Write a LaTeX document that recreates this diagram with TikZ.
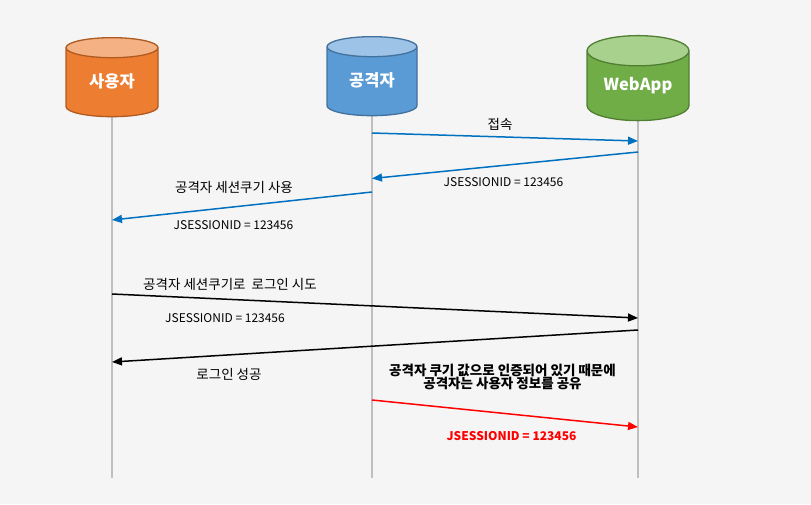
\documentclass[tikz,border=0pt]{standalone}
\usepackage{fontspec}
\setmainfont{Noto Sans CJK KR}
\usepackage{tikz}
\usetikzlibrary{shapes.geometric}
\usetikzlibrary{arrows.meta}
\definecolor{bgcol}{HTML}{F5F5F5}
\definecolor{lifegray}{HTML}{BFBFBF}
\definecolor{msgblue}{HTML}{0070C0}
\definecolor{usrbody}{HTML}{ED7D31}
\definecolor{usrtop}{HTML}{F4B183}
\definecolor{usredge}{HTML}{AE5A21}
\definecolor{atkbody}{HTML}{5B9BD5}
\definecolor{atktop}{HTML}{9DC3E6}
\definecolor{atkedge}{HTML}{41719C}
\definecolor{appbody}{HTML}{70AD47}
\definecolor{apptop}{HTML}{A9D18E}
\definecolor{appedge}{HTML}{507E32}
\newcommand{\actorname}[1]{\raisebox{3.5pt}{#1}}
\tikzset{
  actor/.style={cylinder, shape border rotate=90, aspect=0.44,
    cylinder uses custom fill, line width=1.3pt, inner sep=0pt,
    text=white, font=\bfseries\fontsize{16.5}{16.5}\selectfont},
  lifeline/.style={line width=2pt, lifegray},
  msg/.style={line width=1.5pt, -{Triangle[length=10pt,width=8pt]}},
  txt/.style={inner sep=0pt, font=\fontsize{13.5}{15}\selectfont},
  idtxt/.style={inner sep=0pt, font=\fontsize{12}{14}\selectfont},
}
\begin{document}
\begin{tikzpicture}[x=1pt,y=-1pt]
    \fill[bgcol] (0,0) rectangle (811,504);
    \useasboundingbox (0,0) rectangle (811,504);
    \coordinate (usrend) at (112,478);
    \coordinate (atkend) at (372,478);
    \coordinate (append) at (638,478);
    \draw[lifeline] (112,100) -- (usrend);
    \draw[lifeline] (372,100) -- (atkend);
    \draw[lifeline] (638,100) -- (append);
    \node[actor, draw=usredge, cylinder body fill=usrbody, cylinder end fill=usrtop,
      minimum width=92pt, minimum height=79pt] (usr) at (112,82.5) {\actorname{사용자}};
    \node[actor, draw=atkedge, cylinder body fill=atkbody, cylinder end fill=atktop,
      minimum width=90pt, minimum height=79pt] (atk) at (372,81.5) {\actorname{공격자}};
    \node[actor, draw=appedge, cylinder body fill=appbody, cylinder end fill=apptop,
      minimum width=102pt, minimum height=85pt] (app) at (638,86) {\actorname{WebApp}};
    \draw[msg, msgblue] (atk |- 0,133) -- (app |- 0,141);
    \node[txt] (t1) at (500,124) {접속};
    \draw[msg, msgblue] (app |- 0,152) -- (atk |- 0,178.5);
    \node[idtxt] (t2) at (503.5,182) {JSESSIONID = 123456};
    \draw[msg, msgblue] (atk |- 0,192) -- (usr |- 0,220);
    \node[txt] (t3) at (234,187) {공격자 세션쿠기 사용};
    \node[idtxt] (t4) at (233.5,225) {JSESSIONID = 123456};
    \draw[msg] (usr |- 0,294) -- (app |- 0,318);
    \node[txt] (t5) at (230,284) {공격자 세션쿠기로 \ 로그인 시도};
    \node[idtxt] (t6) at (225,318) {JSESSIONID = 123456};
    \draw[msg] (app |- 0,330) -- (usr |- 0,362);
    \node[txt] (t7) at (229,374) {로그인 성공};
    \node[txt, font=\bfseries\fontsize{13.5}{14}\selectfont, align=center] (t8) at (502.5,377)
      {공격자 쿠기 값으로 인증되어 있기 때문에\\[-1pt]공격자는 사용자 정보를 공유};
    \draw[msg, red] (atk |- 0,400) -- (app |- 0,427);
    \node[idtxt, red, font=\bfseries\fontsize{12}{14}\selectfont] (t9) at (511.5,436.5) {JSESSIONID = 123456};
\end{tikzpicture}
\end{document}
